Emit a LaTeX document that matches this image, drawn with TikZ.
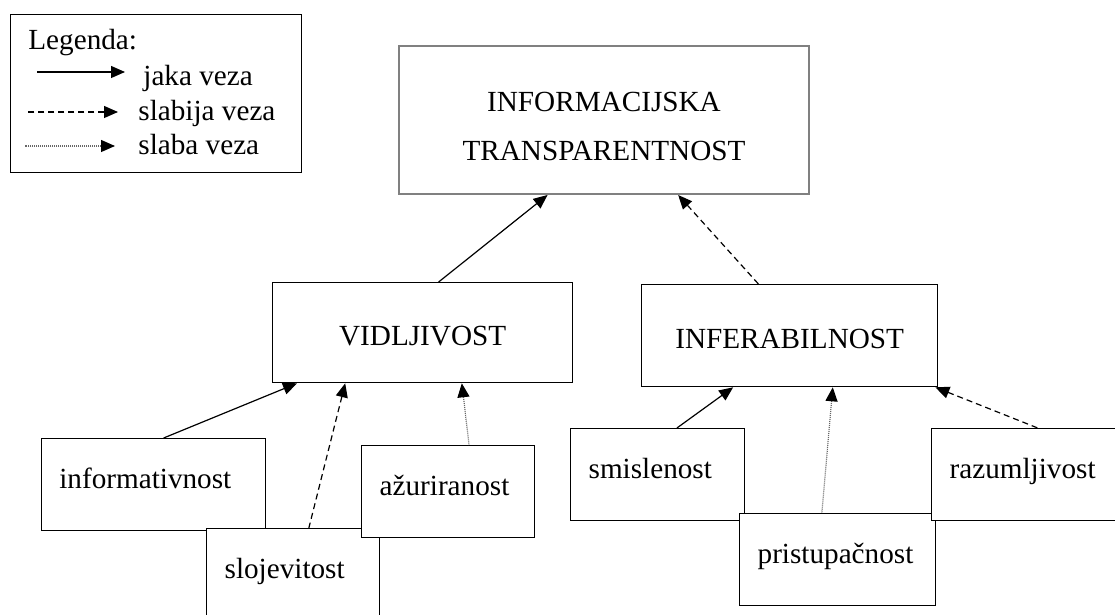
\documentclass[tikz,border=0pt]{standalone}
\usepackage{fontspec}
\setmainfont{Liberation Serif}
\usetikzlibrary{arrows.meta}
\hyphenpenalty=10000

\begin{document}
\begin{tikzpicture}[x=0.5pt,y=-0.5pt,font=\fontsize{14.6pt}{17.5pt}\selectfont,
    kutija/.style={draw,fill=white,line width=0.65pt,anchor=north west,minimum height=46pt,inner xsep=9pt,align=left,text height=0.7em,text depth=0.3em},
    glavna/.style={draw,line width=0.65pt,anchor=north west,text height=1.25em,text depth=0pt},
    vrh/.style={draw=black!50,line width=1pt,anchor=north west,align=center,font=\fontsize{14.6pt}{24.5pt}\selectfont},
    jaka/.style={{Triangle[length=7pt,width=6pt]}-,line width=0.6pt},
    slabija/.style={jaka,dash pattern=on 3pt off 2pt},
    slaba/.style={{Triangle[length=7pt,width=6pt,color=black]}-,line width=0.6pt,draw=black!60,dash pattern=on 0.5pt off 0.5pt},
    legtekst/.style={anchor=base west,inner sep=0pt}]
    \useasboundingbox (0,0) rectangle (1115,615);

    \node (L) at (10,14) [draw,line width=0.65pt,anchor=north west,minimum width=145.5pt,minimum height=79pt] {}; \node (l0) at (28,50) [legtekst] {Legenda:}; \node (l1) at (143,86) [legtekst] {jaka veza}; \node (l2) at (138,121) [legtekst] {slabija veza}; \node (l3) at (138,155) [legtekst] {slaba veza};
    \coordinate (j0) at (37,72); \coordinate (j1) at (125,72); \draw[jaka] (j1) -- (j0);
    \coordinate (s0) at (28,112); \coordinate (s1) at (118,112); \draw[slabija] (s1) -- (s0);
    \coordinate (d0) at (25,146); \coordinate (d1) at (115,146); \draw[slaba] (d1) -- (d0);

    \node (T) at (398,45) [vrh,minimum width=205pt,minimum height=74pt] {\rule{0pt}{16.5pt}INFORMACIJSKA\\TRANSPARENTNOST};
    \node (V) at (272,282) [glavna,minimum width=150pt,minimum height=50pt] {VIDLJIVOST}; \node (I) at (641,284) [glavna,minimum width=148pt,minimum height=51pt] {INFERABILNOST};

    \node (v1) at (40.7,438) [kutija,text width=94.15pt] {informativnost}; \node (v2) at (206,528) [kutija,text width=68.5pt] {slojevitost}; \node (v3) at (361,445) [kutija,text width=68.5pt] {ažuriranost};
    \node (f1) at (570,428) [kutija,text width=69pt] {smislenost}; \node (f2) at (739,513) [kutija,text width=80pt] {pristupačnost}; \node (f3) at (931,428) [kutija,text width=84pt] {razumljivost};

    \path (T.south west) -- (T.south east) coordinate[pos=0.363] (t0) coordinate[pos=0.68] (t1); \path (V.north west) -- (V.north east) coordinate[pos=0.553] (v0); \path (I.north west) -- (I.north east) coordinate[pos=0.395] (i0);
    \draw[jaka] (t0) -- (v0); \draw[slabija] (t1) -- (i0);

    \path (V.south west) -- (V.south east) coordinate[pos=0.083] (va) coordinate[pos=0.243] (vb) coordinate[pos=0.63] (vc); \path (v1.north west) -- (v1.north east) coordinate[pos=0.545] (v10); \path (v2.north west) -- (v2.north east) coordinate[pos=0.59] (v20); \path (v3.north west) -- (v3.north east) coordinate[pos=0.62] (v30);
    \draw[jaka] (va) -- (v10); \draw[slabija] (vb) -- (v20); \draw[slaba] (vc) -- (v30);

    \path (I.south west) -- (I.south east) coordinate[pos=0.31] (ia) coordinate[pos=0.645] (ib) coordinate[pos=0.99] (ic); \path (f1.north west) -- (f1.north east) coordinate[pos=0.61] (f10); \path (f2.north west) -- (f2.north east) coordinate[pos=0.42] (f20); \path (f3.north west) -- (f3.north east) coordinate[pos=0.52] (f30);
    \draw[jaka] (ia) -- (f10); \draw[slaba] (ib) -- (f20); \draw[slabija] (ic) -- (f30);

\end{tikzpicture}
\end{document}
